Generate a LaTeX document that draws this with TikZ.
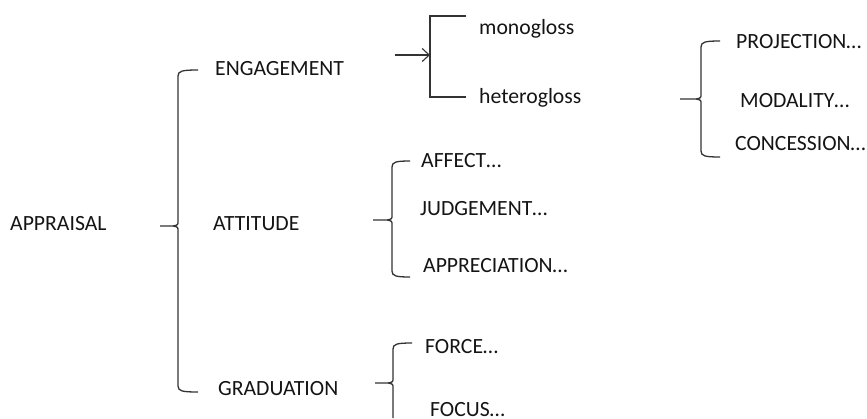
\documentclass[tikz,border=0pt]{standalone}
\usepackage{fontspec}
\setmainfont{Carlito}
\usetikzlibrary{arrows.meta}
% curly brace: tip x, spine x, hook end x, top y, middle y, bottom y
\newcommand{\sysbrace}[6]{%
  \draw[brk] (#3,#4) .. controls (#2+4,#4) and (#2,#4+1) .. (#2,#4+6)
    -- (#2,#5-5) .. controls (#2,#5-1) .. (#2-5,#5) -- (#1,#5)
    (#2-5,#5) .. controls (#2,#5+1) .. (#2,#5+5)
    -- (#2,#6-6) .. controls (#2,#6-1) and (#2+4,#6) .. (#3,#6);}
\begin{document}
\begin{tikzpicture}[x=1pt,y=-1pt,
  lbl/.style={anchor=base west,inner sep=0pt,font=\fontsize{21.7}{24}\selectfont,text=black!92},
  brk/.style={line width=1.3pt,draw=black!80},
  arr/.style={brk,-{Straight Barb[length=7pt,width=13pt,line width=1.1pt]}}]
\useasboundingbox (0,0) rectangle (867,418);

% labels
\node[lbl] (appraisal)  at (10,230)  {APPRAISAL};
\node[lbl] (engagement) at (215,75)  {ENGAGEMENT};
\node[lbl] (attitude)   at (213,230) {ATTITUDE};
\node[lbl] (graduation) at (218,395) {GRADUATION};
\node[lbl] (mono)       at (479,34)  {monogloss};
\node[lbl] (hetero)     at (479,103) {heterogloss};
\node[lbl] (projection) at (736,48)  {PROJECTION…};
\node[lbl] (modality)   at (740,107) {MODALITY…};
\node[lbl] (concession) at (735,150) {CONCESSION…};
\node[lbl] (affect)     at (421,167) {AFFECT…};
\node[lbl] (judgement)  at (420,215) {JUDGEMENT…};
\node[lbl] (appreciation) at (423,272) {APPRECIATION…};
\node[lbl] (force)      at (425,353) {FORCE…};
\node[lbl] (focus)      at (430,416) {FOCUS…};

% braces
\sysbrace{160}{178}{198}{70}{226}{392}
\sysbrace{373}{392}{410}{161}{220}{277}
\sysbrace{680}{701}{720}{41}{99}{157}
\draw[brk] (412,343) .. controls (397,343) and (393,344) .. (393,349)
  -- (393,378) .. controls (393,382) .. (388,383) -- (375,383)
  (388,383) .. controls (393,384) .. (393,388) -- (393,418);

% engagement system
\coordinate (gtop) at (466,16);
\coordinate (gbot) at (466,97);
\coordinate (gin)  at (430,55);
\coordinate (gsrc) at (395,55);
\draw[brk] (gtop) -- (430,16) -- (430,97) -- (gbot);
\draw[arr] (gsrc) -- (gin);
\end{tikzpicture}
\end{document}
